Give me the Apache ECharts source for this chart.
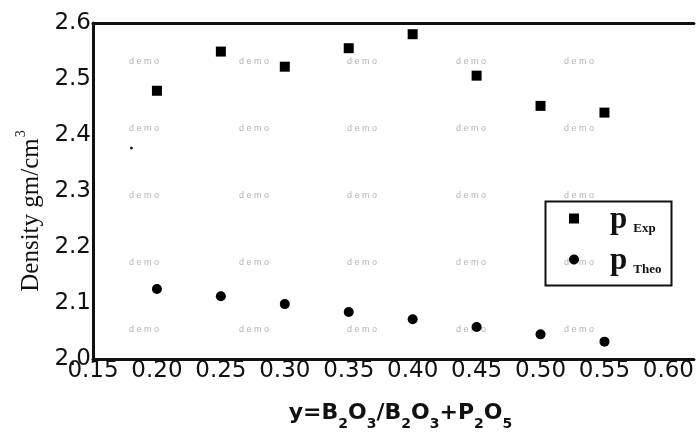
<!DOCTYPE html>
<html>
<head>
<meta charset="utf-8">
<script src="https://cdn.jsdelivr.net/npm/echarts@6/dist/echarts.min.js"></script>
<style>
html,body{margin:0;padding:0;background:#fff;}
#c{width:697px;height:436px;}
</style>
</head>
<body>
<div id="c"></div>
<script>
// Data
const xValues = [0.20, 0.25, 0.30, 0.35, 0.40, 0.45, 0.50, 0.55];
const rhoExp  = [2.479, 2.549, 2.522, 2.555, 2.580, 2.506, 2.452, 2.440];
const rhoTheo = [2.125, 2.112, 2.098, 2.084, 2.071, 2.057, 2.044, 2.031];
const strayX = [0.180];
const strayY = [2.377];
const xTicks = [0.15, 0.20, 0.25, 0.30, 0.35, 0.40, 0.45, 0.50, 0.55, 0.60];
const yTicks = [2.0, 2.1, 2.2, 2.3, 2.4, 2.5, 2.6];
const seriesNames = ['Exp', 'Theo'];

const chart = echarts.init(document.getElementById('c'), null, {renderer: 'canvas'});

const pair = (xs, ys) => xs.map((x, i) => [x, ys[i]]);

// faint "demo" watermark pattern (decoration)
const wm = [];
const wmCols = [145, 255, 363, 472, 580];
const wmRows = [62, 129, 196, 263, 330];
wmRows.forEach(r => wmCols.forEach(c => wm.push({
  type: 'text', left: c - 16, top: r - 5, silent: true,
  style: {text: 'd e m o', fill: '#b4b4b4', font: '9px "Liberation Sans"'}
})));

const tickFmt = (v, list, d) => {
  const hit = list.find(t => Math.abs(t - v) < 1e-6);
  return hit === undefined ? '' : hit.toFixed(d);
};

const tickFont = '"DejaVu Sans", "Liberation Sans", Arial, sans-serif';

const option = {
  backgroundColor: '#fff',
  animation: false,
  grid: {left: 93, top: 23, right: 1, bottom: 77, containLabel: false},
  xAxis: [{
    type: 'value', min: 0.15, max: 0.62, interval: 0.05,
    axisLine: {show: true, lineStyle: {color: '#111', width: 3}},
    axisTick: {show: false},
    splitLine: {show: false},
    axisLabel: {
      formatter: v => tickFmt(v, xTicks, 2),
      color: '#111', fontSize: 23, fontFamily: tickFont,
      margin: 1, showMaxLabel: false
    },
    name: '{m|y=B}{s|2}{m|O}{s|3}{m|/B}{s|2}{m|O}{s|3}{m|+P}{s|2}{m|O}{s|5}',
    nameLocation: 'middle', nameGap: 43,
    nameTextStyle: {
      padding: [0, 0, 0, 14],
      rich: {
        m: {fontSize: 22, fontWeight: 'bold', fontFamily: tickFont, color: '#111', lineHeight: 24, verticalAlign: 'top'},
        s: {fontSize: 14, fontWeight: 'bold', fontFamily: tickFont, color: '#111', lineHeight: 14, padding: [15, 0, 0, 0], verticalAlign: 'top'}
      }
    }
  }, {
    type: 'value', position: 'top', min: 0.15, max: 0.62,
    axisLine: {show: true, lineStyle: {color: '#111', width: 3}},
    axisTick: {show: false}, axisLabel: {show: false}, splitLine: {show: false}
  }],
  yAxis: {
    type: 'value', min: 2.0, max: 2.6, interval: 0.1,
    axisLine: {show: true, lineStyle: {color: '#111', width: 3}},
    axisTick: {show: false},
    splitLine: {show: false},
    axisLabel: {
      formatter: v => tickFmt(v, yTicks, 1),
      color: '#111', fontSize: 23, fontFamily: tickFont,
      margin: 2
    },
    name: '{n|Density gm/cm}{e|3}',
    nameLocation: 'middle', nameGap: 49, nameRotate: 90,
    nameTextStyle: {
      padding: [0, 40, 0, 0],
      rich: {
        n: {fontSize: 25, fontFamily: '"Liberation Serif", "Times New Roman", serif', color: '#111', lineHeight: 26, verticalAlign: 'bottom'},
        e: {fontSize: 14, fontFamily: '"Liberation Serif", "Times New Roman", serif', color: '#111', lineHeight: 14, padding: [0, 0, 15, 1], verticalAlign: 'bottom'}
      }
    }
  },
  legend: {
    orient: 'vertical', left: 564, top: 199,
    itemWidth: 10, itemHeight: 10, itemGap: 10,
    data: [{name: 'Exp', icon: 'rect'}, {name: 'Theo', icon: 'circle'}],
    formatter: n => '{p|p}{s|' + n + '}',
    textStyle: {
      rich: {
        p: {fontSize: 31, fontWeight: 'bold', fontFamily: '"Liberation Serif", serif', color: '#111', lineHeight: 33, padding: [0, 6, 0, 26], verticalAlign: 'bottom'},
        s: {fontSize: 13, fontWeight: 'bold', fontFamily: '"Liberation Serif", serif', color: '#111', lineHeight: 13, padding: [0, 0, 0, 0], verticalAlign: 'bottom'}
      }
    }
  },
  graphic: [{
    type: 'rect', left: 543, top: 199, silent: true, z: 1,
    shape: {width: 126, height: 84},
    style: {fill: 'none', stroke: '#111', lineWidth: 2}
  }].concat(wm),
  series: [{
    name: seriesNames[0], type: 'scatter', symbol: 'rect', symbolSize: 10,
    itemStyle: {color: '#000', opacity: 1},
    data: pair(xValues, rhoExp)
  }, {
    name: seriesNames[1], type: 'scatter', symbol: 'circle', symbolSize: 10,
    itemStyle: {color: '#000', opacity: 1},
    data: pair(xValues, rhoTheo)
  }, {
    name: 'stray', type: 'scatter', symbol: 'circle', symbolSize: 3,
    itemStyle: {color: '#222', opacity: 1},
    data: pair(strayX, strayY)
  }]
};
chart.setOption(option);
</script>
</body>
</html>
